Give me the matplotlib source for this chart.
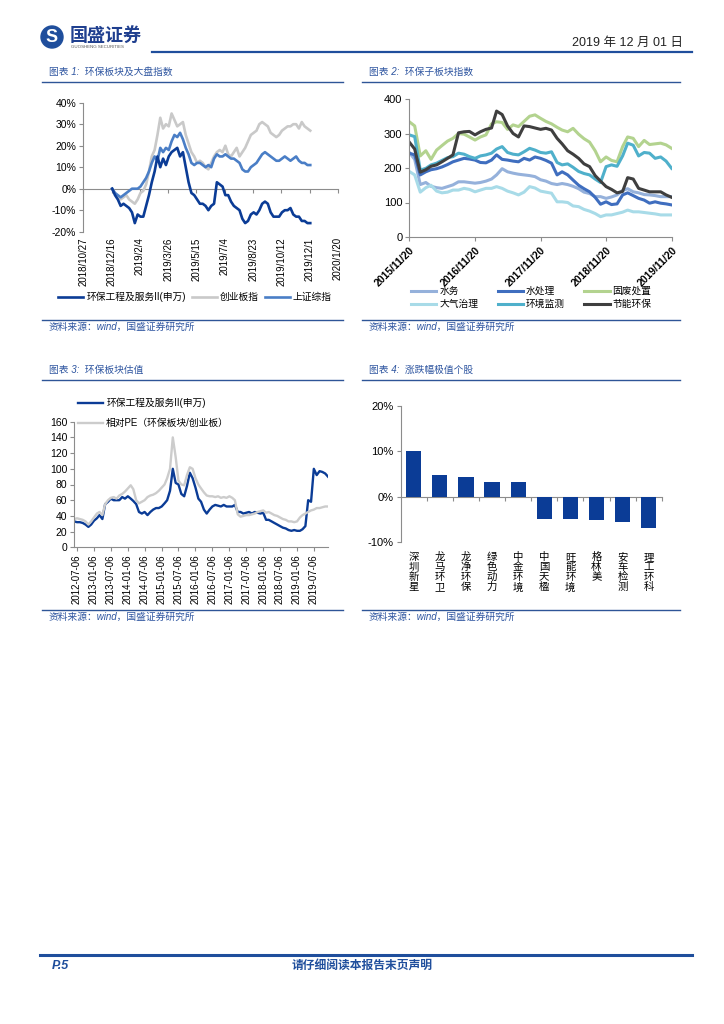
import numpy as np
import pandas as pd
import matplotlib
matplotlib.use('Agg')
import matplotlib.pyplot as plt
import matplotlib.dates as mdates
from matplotlib.patches import Circle

plt.rcParams['font.family'] = ['Liberation Sans', 'Noto Sans CJK SC', 'DejaVu Sans']
plt.rcParams['axes.unicode_minus'] = False

# ---- 图表1 数据 (%, 每5天一个点)
c1_dates = pd.date_range('2018-12-17', periods=71, freq='5D')
c1_hb = [0, -3, -5, -8, -7, -8, -9, -11, -16, -12, -13, -13, -8, -3, 3, 8, 15, 10, 14, 11,
         15, 17, 18, 19, 15, 17, 10, 3, -2, -3, -5, -7, -7, -8, -10, -8, -7, 3, 2, 1,
         -3, -3, -6, -8, -9, -10, -14, -16, -15, -12, -11, -12, -10, -7, -6, -7, -11, -13, -13, -13,
         -11, -10, -10, -9, -12, -13, -13, -15, -15, -16, -16]
c1_cyb = [0, -2, -4, -5, -4, -3, -5, -6, -7, -5, -2, -1, 2, 8, 15, 18, 25, 33, 28, 30,
          29, 35, 32, 29, 30, 31, 25, 21, 17, 15, 12, 13, 12, 10, 9, 12, 15, 17, 18, 17,
          20, 16, 15, 17, 19, 15, 17, 19, 22, 25, 26, 27, 30, 31, 30, 29, 26, 25, 24, 25,
          27, 28, 29, 29, 30, 30, 28, 31, 29, 28, 27]
c1_sz = [0, -2, -3, -4, -3, -2, -1, 0, 0, 0, 1, 3, 5, 8, 12, 15, 13, 19, 17, 19,
         18, 22, 25, 24, 26, 23, 19, 16, 12, 11, 12, 12, 11, 10, 11, 10, 14, 16, 15, 15,
         16, 15, 14, 14, 13, 12, 9, 8, 8, 10, 11, 12, 14, 16, 17, 16, 15, 14, 13, 13,
         14, 15, 14, 13, 14, 15, 13, 12, 12, 11, 11]
c1_ticks = ['2018/10/27', '2018/12/16', '2019/2/4', '2019/3/26', '2019/5/15',
            '2019/7/4', '2019/8/23', '2019/10/12', '2019/12/1', '2020/1/20']
c1_names = ['环保工程及服务II(申万)', '创业板指', '上证综指']

# ---- 图表2 数据 (月度)
c2_dates = pd.date_range('2015-11-20', periods=49, freq=pd.DateOffset(months=1))
c2_sw = [245, 225, 152, 158, 147, 143, 141, 146, 151, 160, 160, 158, 156, 158, 162, 168, 180, 198, 189, 185,
         182, 180, 178, 175, 166, 162, 155, 152, 155, 152, 147, 140, 130, 126, 117, 117, 112, 116, 122, 135,
         140, 131, 128, 123, 122, 120, 117, 117, 117]
c2_scl = [243, 238, 180, 189, 195, 198, 203, 210, 218, 223, 228, 226, 223, 216, 215, 223, 238, 225, 223, 220,
          218, 228, 223, 232, 228, 222, 214, 180, 189, 180, 165, 150, 140, 131, 115, 95, 102, 94, 96, 122,
          128, 120, 112, 107, 98, 102, 98, 96, 93]
c2_gf = [334, 322, 235, 250, 225, 252, 265, 278, 286, 300, 298, 290, 281, 290, 296, 328, 334, 332, 312, 325,
         320, 335, 350, 354, 344, 335, 328, 318, 310, 305, 315, 298, 285, 275, 250, 218, 232, 222, 218, 262,
         290, 286, 262, 280, 268, 270, 272, 267, 257]
c2_dq = [190, 180, 130, 143, 150, 133, 128, 130, 136, 136, 141, 138, 131, 136, 141, 141, 146, 141, 133, 128,
         122, 130, 146, 142, 133, 130, 127, 102, 102, 100, 90, 88, 80, 75, 68, 59, 64, 64, 68, 72,
         78, 73, 73, 71, 69, 67, 64, 64, 64]
c2_jc = [296, 291, 194, 199, 209, 214, 222, 230, 233, 243, 240, 233, 228, 235, 238, 243, 255, 262, 245, 240,
         238, 247, 257, 252, 245, 243, 247, 216, 209, 212, 202, 190, 184, 180, 168, 158, 204, 209, 205, 235,
         272, 266, 235, 245, 243, 228, 232, 220, 199]
c2_jn = [275, 255, 188, 195, 205, 209, 218, 228, 238, 302, 305, 306, 296, 305, 312, 316, 365, 355, 322, 300,
         290, 322, 320, 316, 312, 315, 310, 286, 270, 250, 240, 228, 212, 204, 178, 162, 146, 138, 128, 132,
         172, 168, 141, 136, 131, 131, 131, 122, 115]
c2_names = ['水务', '水处理', '固废处置', '大气治理', '环境监测', '节能环保']
c2_ticks = ['2015/11/20', '2016/11/20', '2017/11/20', '2018/11/20', '2019/11/20']

# ---- 图表3 数据 (月度)
c3_dates = pd.date_range('2012-06-06', periods=91, freq=pd.DateOffset(months=1))
c3_hb = [33, 32, 32, 31, 29, 26, 29, 34, 37, 41, 36, 55, 58, 62, 60, 60, 60, 64, 62, 65,
         62, 59, 55, 45, 43, 45, 41, 45, 48, 50, 50, 52, 56, 60, 72, 100, 82, 80, 68, 65,
         78, 95, 88, 76, 62, 58, 48, 43, 48, 52, 54, 53, 52, 54, 52, 52, 52, 54, 45, 45,
         43, 44, 45, 43, 45, 44, 43, 44, 35, 35, 33, 31, 29, 27, 25, 24, 22, 21, 22, 21,
         21, 23, 27, 60, 58, 100, 92, 97, 96, 94, 90]
c3_pe = [36, 37, 36, 35, 33, 29, 33, 38, 43, 45, 41, 55, 60, 63, 64, 62, 66, 68, 71, 75,
         79, 74, 60, 56, 58, 60, 64, 66, 67, 69, 72, 76, 80, 88, 100, 140, 115, 85, 80, 79,
         92, 102, 100, 88, 80, 75, 70, 66, 65, 65, 64, 65, 63, 64, 63, 65, 63, 60, 42, 39,
         40, 41, 41, 42, 43, 45, 46, 47, 44, 45, 43, 41, 40, 38, 36, 35, 33, 33, 32, 33,
         38, 41, 43, 45, 47, 48, 50, 50, 51, 52, 52]
c3_names = ['环保工程及服务II(申万)', '相对PE（环保板块/创业板）']
c3_ticks = ['2012-07-06', '2013-01-06', '2013-07-06', '2014-01-06', '2014-07-06',
            '2015-01-06', '2015-07-06', '2016-01-06', '2016-07-06', '2017-01-06',
            '2017-07-06', '2018-01-06', '2018-07-06', '2019-01-06', '2019-07-06']

# ---- 图表4 数据
c4_names = ['深圳新星', '龙马环卫', '龙净环保', '绿色动力', '中金环境',
            '中国天楹', '旺能环境', '格林美', '安车检测', '理工环科']
c4_vals = [10.2, 4.9, 4.3, 3.2, 3.2, -4.8, -4.8, -5.1, -5.6, -6.9]

navy = '#0B3C96'
title_c = '#2E55A0'
axis_c = '#8C8C8C'
W, H = 724, 1024


def box(l, t, r, b):
    return [l / W, 1 - b / H, (r - l) / W, (b - t) / H]


fig = plt.figure(figsize=(7.24, 10.24), dpi=100)

# ---- 页面装饰
bg = fig.add_axes([0, 0, 1, 1])
bg.set_xlim(0, W)
bg.set_ylim(H, 0)
bg.axis('off')
bg.add_patch(Circle((52, 37), 11, color='#1F4E9C'))
bg.text(52, 37.5, 'S', color='white', fontsize=13, fontweight='bold', ha='center', va='center')
bg.text(70, 35, '国盛证券', color='#1F3F8F', fontsize=13, fontweight='bold', va='center',
        family=['Noto Sans CJK SC'])
bg.text(71, 47, 'GUOSHENG SECURITIES', color='#555555', fontsize=3.2, va='center')
bg.text(683, 43, '2019 年 12 月 01 日', fontsize=9, ha='right', va='center', color='#222222')
bg.plot([152, 692], [52, 52], color='#1F4E9C', lw=1.6)

for x0, x1, y, txt in [(42, 343, 72, '图表 1:  环保板块及大盘指数'),
                       (362, 680, 72, '图表 2:  环保子板块指数'),
                       (42, 343, 370, '图表 3:  环保板块估值'),
                       (362, 680, 370, '图表 4:  涨跌幅极值个股')]:
    bg.text(x0 + 7, y, txt, color=title_c, fontsize=7, style='italic', va='center')
    bg.plot([x0, x1], [y + 10, y + 10], color='#2E5597', lw=1.0)
for x0, x1, y in [(42, 343, 320), (362, 680, 320), (42, 343, 610), (362, 680, 610)]:
    bg.plot([x0, x1], [y, y], color='#2E5597', lw=1.0)
    bg.text(x0 + 7, y + 7, '资料来源：wind，国盛证券研究所', color=title_c, fontsize=7,
            style='italic', va='center')

bg.plot([40, 692], [955, 955], color='#1F4E9C', lw=2.2)
bg.text(52, 966, 'P.5', color='#1F4E9C', fontsize=9, fontweight='bold', style='italic', va='center')
bg.text(362, 966, '请仔细阅读本报告末页声明', color='#1F4E9C', fontsize=8.5, fontweight='bold',
        ha='center', va='center')

# ---- 图表1
ax1 = fig.add_axes(box(83.3, 102.7, 338, 231.7))
x1 = mdates.date2num(c1_dates)
l_cyb, = ax1.plot(x1, np.array(c1_cyb) / 100, color='#C9C9C9', lw=1.9)
l_sz, = ax1.plot(x1, np.array(c1_sz) / 100, color='#4A7EC6', lw=1.9)
l_hb, = ax1.plot(x1, np.array(c1_hb) / 100, color=navy, lw=1.9)
t1 = mdates.date2num(pd.to_datetime(c1_ticks, format='%Y/%m/%d'))
ax1.set_xlim(t1[0], t1[-1])
ax1.set_ylim(-0.2, 0.4)
ax1.set_yticks(np.arange(-0.2, 0.41, 0.1))
ax1.set_yticklabels(['-20%', '-10%', '0%', '10%', '20%', '30%', '40%'], fontsize=7.5)
ax1.set_xticks(t1)
ax1.set_xticklabels(c1_ticks, rotation=90, fontsize=7)
ax1.tick_params(axis='x', length=0, pad=4)
ax1.tick_params(axis='y', length=3, color=axis_c, pad=2)
for s in ['top', 'right', 'bottom']:
    ax1.spines[s].set_visible(False)
ax1.spines['left'].set_color(axis_c)
sec1 = ax1.secondary_xaxis(1 / 3)
sec1.set_xticks(t1)
sec1.tick_params(labelbottom=False, length=3, color=axis_c)
sec1.spines['bottom'].set_color(axis_c)
ax1.legend([l_hb, l_cyb, l_sz], c1_names, loc='center left', bbox_to_anchor=(58 / W, 1 - 297 / H),
           bbox_transform=fig.transFigure, ncol=3, frameon=False, fontsize=7,
           handlelength=2.6, handletextpad=0.3, columnspacing=0.6, borderaxespad=0, borderpad=0)

# ---- 图表2
ax2 = fig.add_axes(box(409.3, 99, 672, 237))
x2 = mdates.date2num(c2_dates)
c2_cols = ['#95B1DB', '#3F6EBF', '#B3D38F', '#A8DBE8', '#4FB0CB', '#3F3F3F']
c2_series = [c2_sw, c2_scl, c2_gf, c2_dq, c2_jc, c2_jn]
c2_lines = []
for vals, col, name in zip(c2_series, c2_cols, c2_names):
    ln, = ax2.plot(x2, vals, color=col, lw=2.2)
    c2_lines.append(ln)
t2 = mdates.date2num(pd.to_datetime(c2_ticks, format='%Y/%m/%d'))
ax2.set_xlim(t2[0], t2[-1] + 2)
ax2.set_ylim(0, 400)
ax2.set_yticks([0, 100, 200, 300, 400])
ax2.tick_params(axis='y', labelsize=8, length=3, color=axis_c, pad=2)
ax2.set_xticks(t2)
ax2.set_xticklabels(c2_ticks, rotation=45, ha='right', rotation_mode='anchor',
                    fontsize=7.5, fontweight='bold')
ax2.tick_params(axis='x', length=3, color=axis_c, pad=3)
for s in ['top', 'right']:
    ax2.spines[s].set_visible(False)
ax2.spines['left'].set_color(axis_c)
ax2.spines['bottom'].set_color(axis_c)
# 图例按行排列: 水务 水处理 固废处置 / 大气治理 环境监测 节能环保
order = [0, 3, 1, 4, 2, 5]
ax2.legend([c2_lines[i] for i in order], [c2_names[i] for i in order],
           loc='upper left', bbox_to_anchor=(411 / W, 1 - 286 / H), bbox_transform=fig.transFigure,
           ncol=3, frameon=False, fontsize=7, handlelength=2.6, handletextpad=0.3,
           columnspacing=2.0, borderaxespad=0, borderpad=0, labelspacing=0.3)

# ---- 图表3
ax3 = fig.add_axes(box(74.2, 421.7, 328, 547.3))
x3 = mdates.date2num(c3_dates)
l3a, = ax3.plot(x3, c3_hb, color=navy, lw=1.7)
l3b, = ax3.plot(x3, c3_pe, color='#CCCCCC', lw=1.7)
t3 = mdates.date2num(pd.to_datetime(c3_ticks))
ax3.set_xlim(x3[0], x3[-1])
ax3.set_ylim(0, 160)
ax3.set_yticks(np.arange(0, 161, 20))
ax3.tick_params(axis='y', labelsize=7.5, length=3, color=axis_c, pad=2)
ax3.set_xticks(t3)
ax3.set_xticklabels(c3_ticks, rotation=90, fontsize=7)
ax3.tick_params(axis='x', length=3, color=axis_c, pad=2)
for s in ['top', 'right']:
    ax3.spines[s].set_visible(False)
ax3.spines['left'].set_color(axis_c)
ax3.spines['bottom'].set_color(axis_c)
ax3.legend([l3a, l3b], c3_names, loc='upper left', bbox_to_anchor=(78 / W, 1 - 398 / H),
           bbox_transform=fig.transFigure, frameon=False, fontsize=7, handlelength=2.6,
           handletextpad=0.3, borderaxespad=0, borderpad=0, labelspacing=1.0)

# ---- 图表4
ax4 = fig.add_axes(box(400.7, 406, 661.7, 542.3))
pos = np.arange(len(c4_names))
ax4.bar(pos, np.array(c4_vals) / 100, width=0.58, color=navy)
ax4.set_xlim(-0.5, len(c4_names) - 0.5)
ax4.set_ylim(-0.1, 0.2)
ax4.set_yticks([-0.1, 0, 0.1, 0.2])
ax4.set_yticklabels(['-10%', '0%', '10%', '20%'], fontsize=8)
ax4.tick_params(axis='y', length=3, color=axis_c, pad=2)
ax4.set_xticks(pos)
ax4.set_xticklabels(['\n'.join(n) for n in c4_names], fontsize=7.5, linespacing=1.0, va='top')
ax4.tick_params(axis='x', length=0, pad=7)
for s in ['top', 'right', 'bottom']:
    ax4.spines[s].set_visible(False)
ax4.spines['left'].set_color(axis_c)
sec4 = ax4.secondary_xaxis(1 / 3)
sec4.set_xticks(pos + 0.5)
sec4.tick_params(labelbottom=False, length=3, color=axis_c)
sec4.spines['bottom'].set_color(axis_c)

fig.savefig('out.png', dpi=100)
